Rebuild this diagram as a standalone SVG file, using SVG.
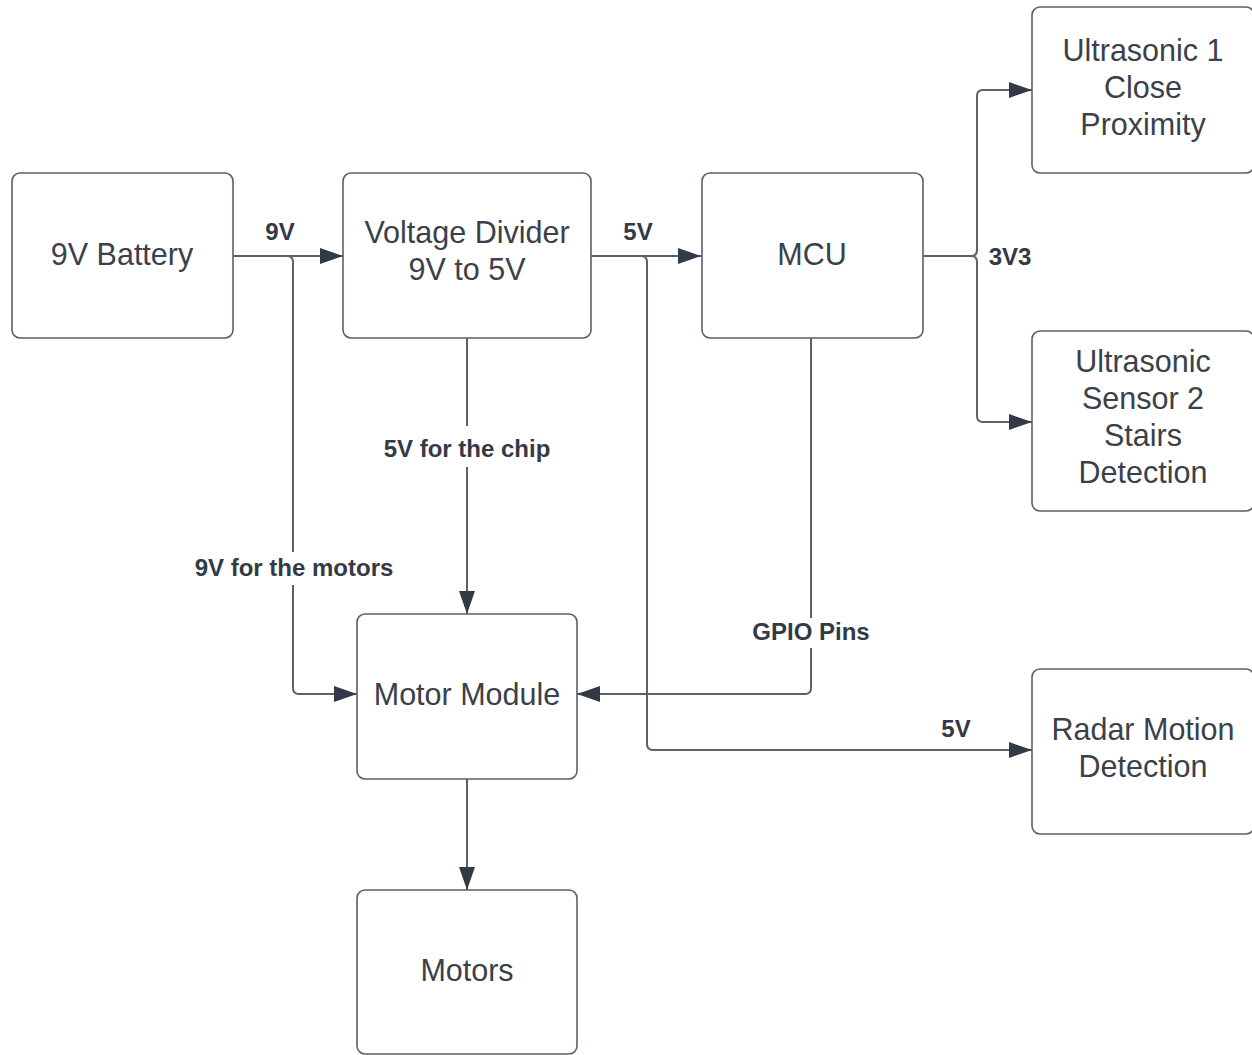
<svg xmlns="http://www.w3.org/2000/svg" width="1252" height="1055" viewBox="0 0 1252 1055">
<defs>
<marker id="arr" markerUnits="userSpaceOnUse" markerWidth="24" markerHeight="17" refX="23" refY="8" orient="auto">
<path d="M0,0 L23,8 L0,16 z" fill="#333a45"/>
</marker>
<style>
.box{fill:#ffffff;stroke:#5c6068;stroke-width:1.6}
.nt{font-family:"Liberation Sans",Arial,sans-serif;font-size:30.5px;fill:#3a414a;text-anchor:middle}
.lb{font-family:"Liberation Sans",Arial,sans-serif;font-size:24px;font-weight:bold;fill:#333a45;text-anchor:middle}
.cn{fill:none;stroke:#5c6068;stroke-width:2}
.bg{fill:#ffffff}
</style>
</defs>
<rect width="1252" height="1055" fill="#ffffff"/>
<g id="connectors">
<path class="cn" d="M233,256 H343" marker-end="url(#arr)"/>
<path class="cn" d="M287,256 Q293,256 293,262 V688 Q293,694 299,694 H357" marker-end="url(#arr)"/>
<path class="cn" d="M591,256 H701" marker-end="url(#arr)"/>
<path class="cn" d="M641,256 Q647,256 647,262 V744 Q647,750 653,750 H1032" marker-end="url(#arr)"/>
<path class="cn" d="M467,338 V614" marker-end="url(#arr)"/>
<path class="cn" d="M811,338 V688 Q811,694 805,694 H577" marker-end="url(#arr)"/>
<path class="cn" d="M922,256 H971 Q977,256 977,250 V96 Q977,90 983,90 H1032" marker-end="url(#arr)"/>
<path class="cn" d="M971,256 Q977,256 977,262 V416 Q977,422 983,422 H1032" marker-end="url(#arr)"/>
<path class="cn" d="M467,779 V890" marker-end="url(#arr)"/>
<rect class="bg" x="376" y="426" width="182" height="41"/>
<rect class="bg" x="186" y="552" width="216" height="33"/>
<rect class="bg" x="746" y="618" width="130" height="30"/>
<text class="lb" x="280" y="240">9V</text>
<text class="lb" x="638" y="240">5V</text>
<text class="lb" x="1010" y="265">3V3</text>
<text class="lb" x="467" y="457">5V for the chip</text>
<text class="lb" x="294" y="576">9V for the motors</text>
<text class="lb" x="811" y="640">GPIO Pins</text>
<text class="lb" x="956" y="737">5V</text>
</g>
<g id="battery">
<rect class="box" x="12" y="173" width="221" height="165" rx="8"/>
<text class="nt" x="122" y="265">9V Battery</text>
</g>
<g id="divider">
<rect class="box" x="343" y="173" width="248" height="165" rx="8"/>
<text class="nt" x="467" y="243">Voltage Divider</text>
<text class="nt" x="467" y="280">9V to 5V</text>
</g>
<g id="mcu">
<rect class="box" x="702" y="173" width="221" height="165" rx="8"/>
<text class="nt" x="812" y="265">MCU</text>
</g>
<g id="ultrasonic1">
<rect class="box" x="1032" y="7" width="222" height="166" rx="8"/>
<text class="nt" x="1143" y="61">Ultrasonic 1</text>
<text class="nt" x="1143" y="98">Close</text>
<text class="nt" x="1143" y="135">Proximity</text>
</g>
<g id="ultrasonic2">
<rect class="box" x="1032" y="331" width="222" height="180" rx="8"/>
<text class="nt" x="1143" y="372">Ultrasonic</text>
<text class="nt" x="1143" y="409">Sensor 2</text>
<text class="nt" x="1143" y="446">Stairs</text>
<text class="nt" x="1143" y="483">Detection</text>
</g>
<g id="motormodule">
<rect class="box" x="357" y="614" width="220" height="165" rx="8"/>
<text class="nt" x="467" y="705">Motor Module</text>
</g>
<g id="radar">
<rect class="box" x="1032" y="669" width="222" height="165" rx="8"/>
<text class="nt" x="1143" y="740">Radar Motion</text>
<text class="nt" x="1143" y="777">Detection</text>
</g>
<g id="motors">
<rect class="box" x="357" y="890" width="220" height="164" rx="8"/>
<text class="nt" x="467" y="981">Motors</text>
</g>
</svg>
